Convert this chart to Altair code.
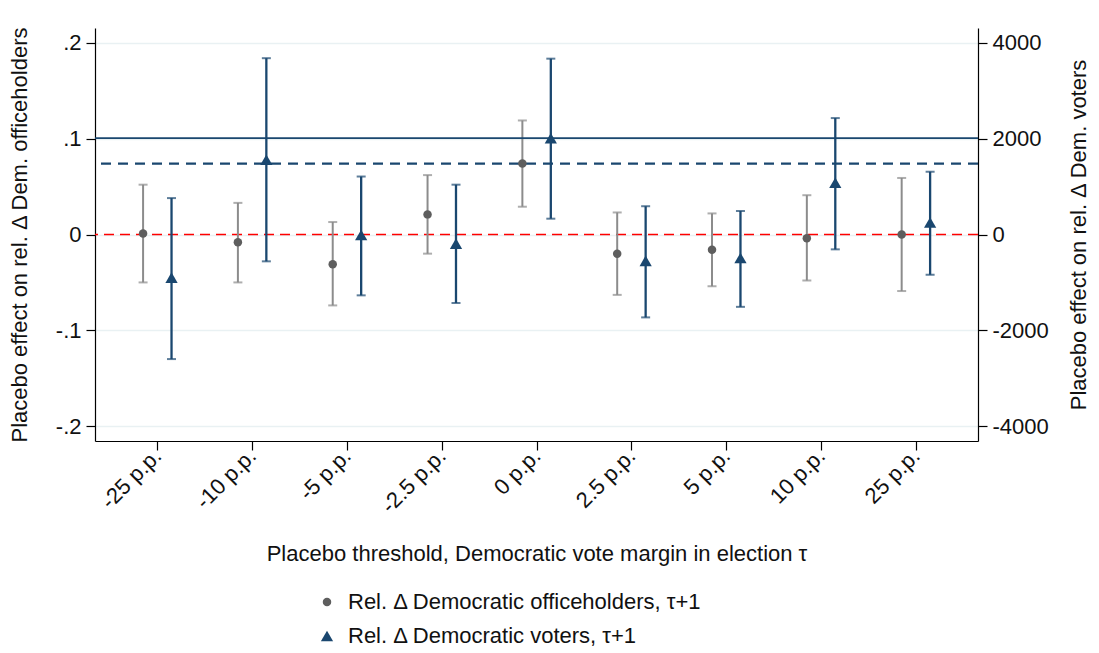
import altair as alt
import pandas as pd

# ---- data ----
thresholds = ['-25 p.p.', '-10 p.p.', '-5 p.p.', '-2.5 p.p.', '0 p.p.',
              '2.5 p.p.', '5 p.p.', '10 p.p.', '25 p.p.']

off_name = 'Rel. Δ Democratic officeholders, τ+1'
vot_name = 'Rel. Δ Democratic voters, τ+1'

off_est = [0.001, -0.008, -0.031, 0.021, 0.074, -0.020, -0.016, -0.004, 0.000]
off_lo = [-0.050, -0.050, -0.074, -0.020, 0.029, -0.063, -0.054, -0.048, -0.059]
off_hi = [0.052, 0.033, 0.013, 0.062, 0.119, 0.023, 0.022, 0.041, 0.059]

vot_est = [-900, 1560, -10, -190, 2010, -550, -490, 1080, 250]
vot_lo = [-2600, -560, -1270, -1430, 330, -1730, -1510, -310, -840]
vot_hi = [760, 3680, 1210, 1040, 3670, 590, 490, 2430, 1310]

left_ticks = [-0.2, -0.1, 0, 0.1, 0.2]
right_ticks = [-4000, -2000, 0, 2000, 4000]

# reference lines: zero, officeholder effect at the true threshold, voter effect at the true threshold
zero_ref = [0]
off_ref = [off_est[4]]
vot_ref = [vot_est[4]]

FONT = 'Liberation Sans'
FS = 22
GRAY_PT = '#5e5e5e'
GRAY_CI = '#8c8c8c'
NAVY = '#1a476f'

df_off = pd.DataFrame({'idx': list(range(len(thresholds))), 'label': thresholds,
                       'est': off_est, 'lo': off_lo, 'hi': off_hi, 'series': off_name})
df_vot = pd.DataFrame({'idx': list(range(len(thresholds))), 'label': thresholds,
                       'est': vot_est, 'lo': vot_lo, 'hi': vot_hi, 'series': vot_name})

label_array = '[' + ','.join("'%s'" % t for t in thresholds) + ']'

x_enc = alt.X('xp:Q',
              scale=alt.Scale(domain=[-0.657, 8.655], nice=False, zero=False),
              axis=alt.Axis(values=list(range(len(thresholds))),
                            labelExpr=label_array + '[datum.value]',
                            labelAngle=-45, labelAlign='right', labelBaseline='middle',
                            labelPadding=2, tickSize=9, grid=False,
                            title='Placebo threshold, Democratic vote margin in election τ',
                            titlePadding=27))

left_scale = alt.Scale(domain=[-0.2155, 0.2155], nice=False, zero=False)
left_axis = alt.Axis(values=left_ticks, orient='left',
                     labelExpr="(datum.value < -0.001 ? '-' : '') + (abs(datum.value) < 0.001 ? '0' : replace(format(abs(datum.value), '.1f'), '0.', '.'))",
                     tickSize=9, labelPadding=5, grid=True, gridColor='#e9f1f3', gridWidth=1.6,
                     title='Placebo effect on rel. Δ Dem. officeholders', titlePadding=24)

right_scale = alt.Scale(domain=[-4310, 4310], nice=False, zero=False)
right_axis = alt.Axis(values=right_ticks, orient='right',
                      labelExpr="(datum.value < 0 ? '-' : '') + format(abs(datum.value), 'd')",
                      tickSize=9, labelPadding=5, grid=False,
                      title='Placebo effect on rel. Δ Dem. voters', titlePadding=20,
                      titleAngle=270, titleBaseline='top')

color_scale = alt.Scale(domain=[off_name, vot_name], range=[GRAY_PT, NAVY])
shape_scale = alt.Scale(domain=[off_name, vot_name], range=['circle', 'triangle-up'])
size_scale = alt.Scale(domain=[off_name, vot_name], range=[72, 150])

# ---- left (officeholders) layer ----
zero_line = alt.Chart(pd.DataFrame({'v': zero_ref})).mark_rule(
    color='#ff0000', strokeWidth=1.4, strokeDash=[10, 6]).encode(
    y=alt.Y('v:Q', scale=left_scale, axis=left_axis))

off_line = alt.Chart(pd.DataFrame({'v': off_ref})).mark_rule(
    color=NAVY, strokeWidth=2.2, strokeDash=[10, 7]).encode(
    y=alt.Y('v:Q', scale=left_scale, axis=left_axis))

base_off = alt.Chart(df_off).transform_calculate(xp='datum.idx - 0.15')

off_ci = base_off.mark_rule(color=GRAY_CI, strokeWidth=2).encode(
    x=x_enc, y=alt.Y('lo:Q', scale=left_scale, axis=left_axis), y2='hi:Q')
off_cap_lo = base_off.mark_tick(color=GRAY_CI, thickness=2, size=9, orient='horizontal').encode(
    x=x_enc, y=alt.Y('lo:Q', scale=left_scale, axis=left_axis))
off_cap_hi = base_off.mark_tick(color=GRAY_CI, thickness=2, size=9, orient='horizontal').encode(
    x=x_enc, y=alt.Y('hi:Q', scale=left_scale, axis=left_axis))
off_pts = base_off.mark_point(filled=True, opacity=1).encode(
    x=x_enc, y=alt.Y('est:Q', scale=left_scale, axis=left_axis),
    color=alt.Color('series:N', scale=color_scale, title=None),
    shape=alt.Shape('series:N', scale=shape_scale, title=None),
    size=alt.Size('series:N', scale=size_scale, title=None))

left_layer = alt.layer(zero_line, off_line, off_ci, off_cap_lo, off_cap_hi, off_pts)

# ---- right (voters) layer ----
vot_line = alt.Chart(pd.DataFrame({'v': vot_ref})).mark_rule(
    color=NAVY, strokeWidth=1.8).encode(
    y=alt.Y('v:Q', scale=right_scale, axis=right_axis))

base_vot = alt.Chart(df_vot).transform_calculate(xp='datum.idx + 0.15')

vot_ci = base_vot.mark_rule(color=NAVY, strokeWidth=2.3).encode(
    x=x_enc, y=alt.Y('lo:Q', scale=right_scale, axis=right_axis), y2='hi:Q')
vot_cap_lo = base_vot.mark_tick(color=NAVY, thickness=2, size=9, orient='horizontal').encode(
    x=x_enc, y=alt.Y('lo:Q', scale=right_scale, axis=right_axis))
vot_cap_hi = base_vot.mark_tick(color=NAVY, thickness=2, size=9, orient='horizontal').encode(
    x=x_enc, y=alt.Y('hi:Q', scale=right_scale, axis=right_axis))
vot_pts = base_vot.mark_point(filled=True, opacity=1).encode(
    x=x_enc, y=alt.Y('est:Q', scale=right_scale, axis=right_axis),
    color=alt.Color('series:N', scale=color_scale, title=None),
    shape=alt.Shape('series:N', scale=shape_scale, title=None),
    size=alt.Size('series:N', scale=size_scale, title=None))

right_layer = alt.layer(vot_line, vot_ci, vot_cap_lo, vot_cap_hi, vot_pts)

chart = alt.layer(left_layer, right_layer).resolve_scale(y='independent').properties(
    width=883, height=413,
    autosize=alt.AutoSizeParams(type='none'),
    padding={'left': 87, 'top': 20, 'right': 113, 'bottom': 210},
).configure_view(stroke=None).configure_axis(
    labelFont=FONT, titleFont=FONT, labelFontSize=FS, titleFontSize=FS,
    titleFontWeight='normal', labelColor='#111111', titleColor='#111111',
    domainColor='#000000', domainWidth=1.2, tickColor='#000000', tickWidth=1.2,
).configure_legend(
    orient='none', legendX=221, legendY=563, labelFont=FONT, labelFontSize=FS,
    labelColor='#111111', labelOffset=10, rowPadding=12,
    symbolStrokeWidth=0, labelLimit=700,
)

chart.save('out.html', embed_options={'renderer': 'svg', 'actions': False})
